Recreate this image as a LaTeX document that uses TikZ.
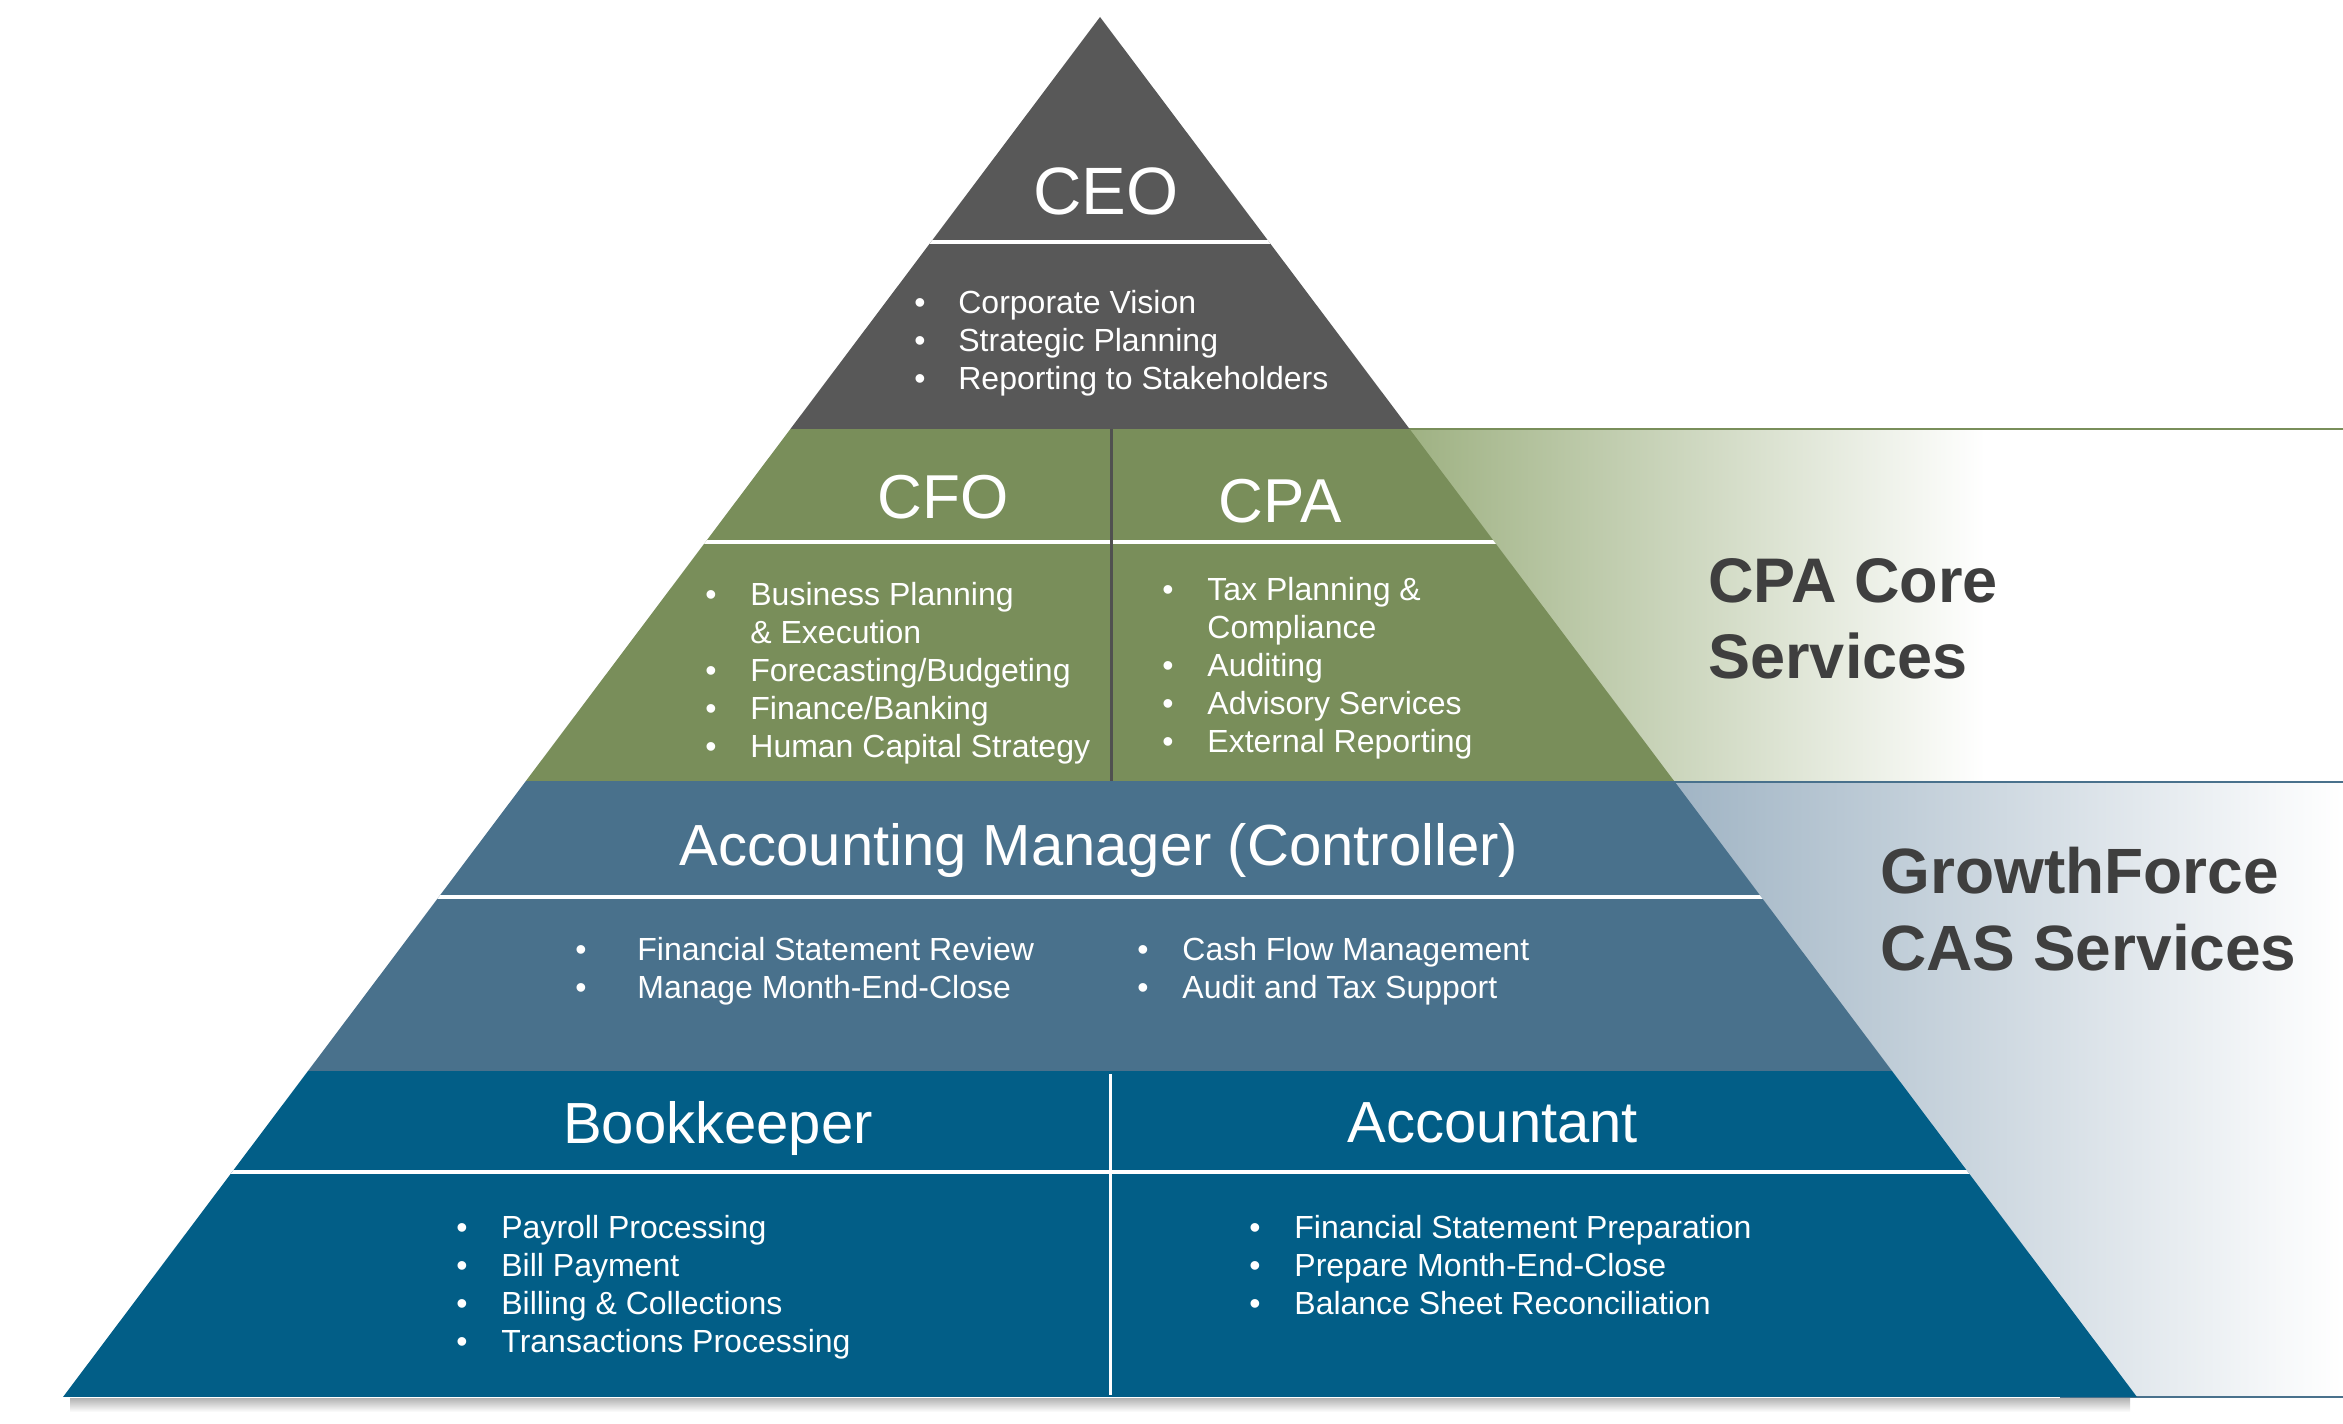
\documentclass[tikz,border=0pt]{standalone}
\usepackage{fontspec}
\setmainfont{Liberation Sans}
\definecolor{ceogrey}{RGB}{88,88,88}
\definecolor{cfogreen}{RGB}{121,142,90}
\definecolor{amblue}{RGB}{73,113,140}
\definecolor{bkblue}{RGB}{2,94,135}
\definecolor{lblgrey}{RGB}{63,63,63}
\definecolor{gstart}{RGB}{158,177,130}
\definecolor{bstart}{RGB}{160,180,196}
\definecolor{divgrey}{RGB}{80,80,80}
\newcommand{\pbul}[1][19.5pt]{\makebox[#1][l]{\hspace*{-3pt}•}}
\newcommand{\pind}{\hspace*{19.5pt}}
\begin{document}
\begin{tikzpicture}[x=0.5pt,y=-0.5pt,
  head/.style={text=white, inner sep=0pt, anchor=base},
  blist/.style={text=white, inner sep=0pt, anchor=base west, align=left, font=\fontsize{16}{19}\selectfont},
  side/.style={text=lblgrey, inner sep=0pt, anchor=base west, align=left, font=\bfseries\fontsize{32}{38.5}\selectfont},
  sepline/.style={draw=white, line width=2.2pt},
]
\useasboundingbox (0,0) rectangle (2343,1423);
\fill[white] (0,0) rectangle (2343,1423);

\coordinate (apex) at (1100,17);
\coordinate (bl) at (63,1397);
\coordinate (br) at (2137,1397);

% side gradients
\shade[left color=gstart, right color=white] (1405,429) rectangle (1985,781);
\shade[left color=bstart, right color=white] (1670,781) rectangle (2343,1396);
\draw[cfogreen, line width=1.2pt] (1405,429) -- (2343,429);
\draw[amblue, line width=1.2pt] (1670,782) -- (2343,782);
\draw[amblue, line width=1.3pt] (2060,1397) -- (2343,1397);

% shadow under base
\shade[top color=black!30, bottom color=white] (70,1398) rectangle (2130,1412);

% pyramid
\begin{scope}
\clip (apex) -- (bl) -- (br) -- cycle;
\fill[ceogrey] (0,0) rectangle (2343,429);
\fill[cfogreen] (0,429) rectangle (2343,781);
\fill[amblue] (0,781) rectangle (2343,1071);
\fill[bkblue] (0,1071) rectangle (2343,1397);
\draw[sepline] (0,242) -- (2343,242);
\draw[sepline] (0,542) -- (2343,542);
\draw[sepline] (0,897) -- (2343,897);
\draw[sepline] (0,1172) -- (2343,1172);
\draw[divgrey, line width=1.5pt] (1111,429) -- (1111,781);
\draw[white, line width=1.5pt] (1110,1074) -- (1110,1395);
\end{scope}

% headings
\node[head, font=\fontsize{33.5}{40}\selectfont] (ceo) at (1106,215) {CEO};
\node[head, font=\fontsize{31}{37}\selectfont] (cfo) at (943,518) {CFO};
\node[head, font=\fontsize{31}{37}\selectfont] (cpa) at (1280,522) {CPA};
\node[head, font=\fontsize{29}{35}\selectfont] (am) at (1099,865) {Accounting Manager (Controller)};
\node[head, font=\fontsize{29}{35}\selectfont] (bk) at (718,1143) {Bookkeeper};
\node[head, font=\fontsize{29}{35}\selectfont] (acc) at (1493,1142) {Accountant};

% bullet lists (anchored at the baseline of the last line)
\node[blist] (ceol) at (920,389) {\pbul[19pt]Corporate Vision\\\pbul[19pt]Strategic Planning\\\pbul[19pt]Reporting to Stakeholders};
\node[blist] (cfol) at (711,757) {\pbul Business Planning\\\pind\& Execution\\\pbul Forecasting/Budgeting\\\pbul Finance/Banking\\\pbul Human Capital Strategy};
\node[blist] (cpal) at (1168,752) {\pbul Tax Planning \&\\\pind Compliance\\\pbul Auditing\\\pbul Advisory Services\\\pbul External Reporting};
\node[blist] (aml) at (581,998) {\pbul[28pt]Financial Statement Review\\\pbul[28pt]Manage Month-End-Close};
\node[blist] (amr) at (1143,998) {\pbul Cash Flow Management\\\pbul Audit and Tax Support};
\node[blist] (bkl) at (462,1352) {\pbul Payroll Processing\\\pbul Bill Payment\\\pbul Billing \& Collections\\\pbul Transactions Processing};
\node[blist] (accl) at (1255,1314) {\pbul Financial Statement Preparation\\\pbul Prepare Month-End-Close\\\pbul Balance Sheet Reconciliation};

% side labels
\node[side, font=\bfseries\fontsize{31.5}{38}\selectfont] (core) at (1708,678) {CPA Core\\Services};
\node[side] (cas) at (1880,970) {GrowthForce\\CAS Services};
\end{tikzpicture}
\end{document}
